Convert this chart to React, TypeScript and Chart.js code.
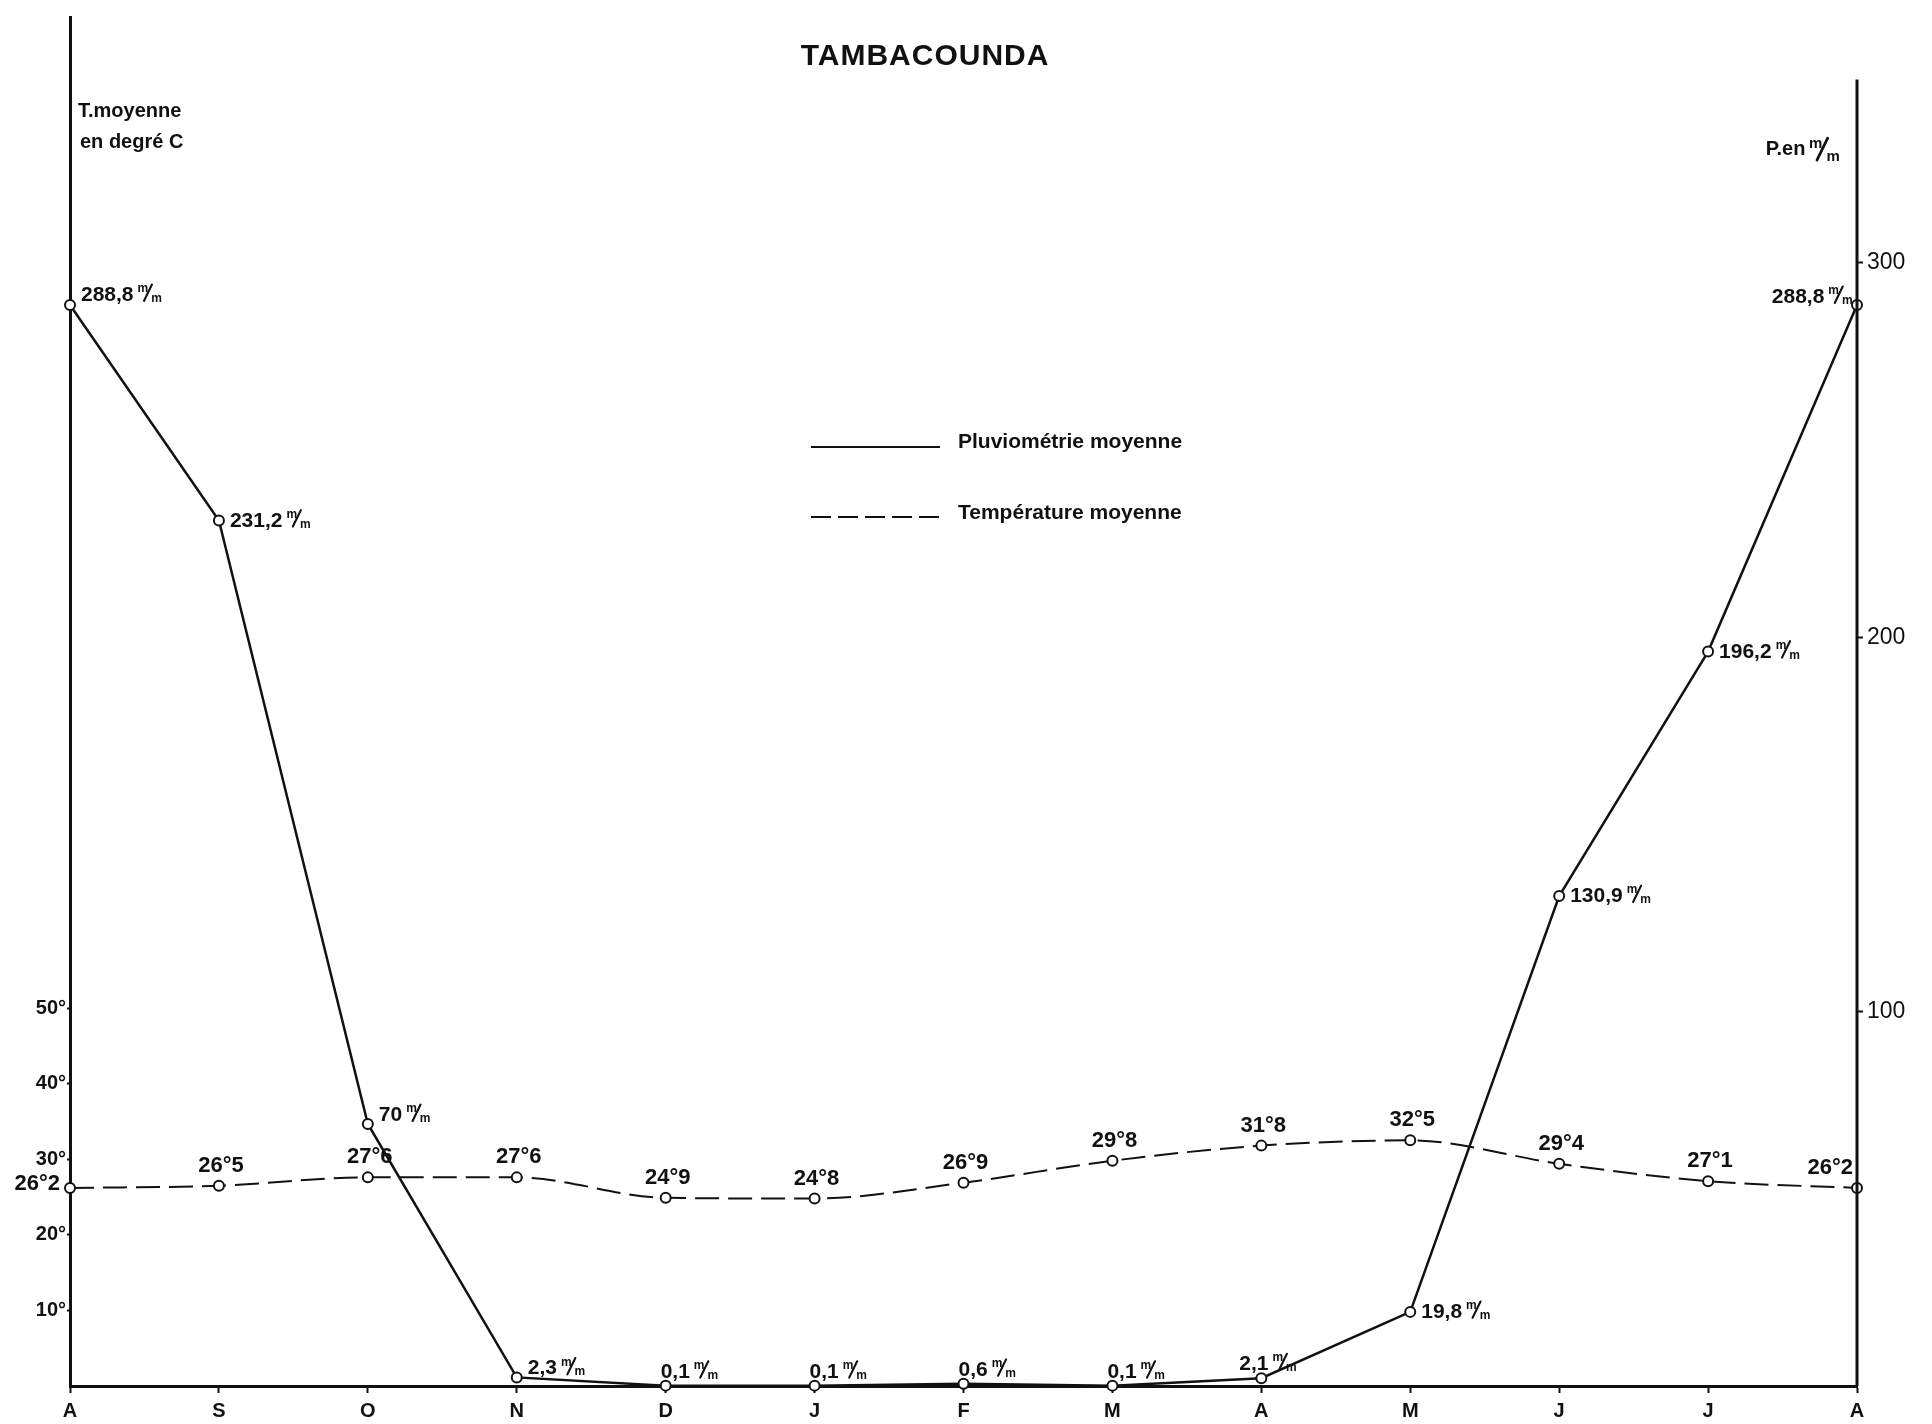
import React, { useEffect, useRef } from "react";
import { Chart, registerables } from "chart.js";

Chart.register(...registerables);

const months = ["A", "S", "O", "N", "D", "J", "F", "M", "A", "M", "J", "J", "A"];
const precipitation = [288.8, 231.2, 70, 2.3, 0.1, 0.1, 0.6, 0.1, 2.1, 19.8, 130.9, 196.2, 288.8];
const temperature = [26.2, 26.5, 27.6, 27.6, 24.9, 24.8, 26.9, 29.8, 31.8, 32.5, 29.4, 27.1, 26.2];
const precipText = ["288,8", "231,2", "70", "2,3", "0,1", "0,1", "0,6", "0,1", "2,1", "19,8", "130,9", "196,2", "288,8"];
const tempText = ["26°2", "26°5", "27°6", "27°6", "24°9", "24°8", "26°9", "29°8", "31°8", "32°5", "29°4", "27°1", "26°2"];
const tempTicks = [10, 20, 30, 40, 50];
const precipTicks = [100, 200, 300];
const seriesNames = ["Pluviométrie moyenne", "Température moyenne"];
const chartTitle = "TAMBACOUNDA";
const leftAxisTitle = ["T.moyenne", "en degré C"];
const rightAxisTitle = "P.en";

// label placement keywords (layout only)
const precipPlacement = ["right", "right", "right", "right", "above", "above", "above", "above", "above", "right", "right", "right", "left"];
const tempPlacement = ["left", "above", "above", "above", "above", "above", "above", "above", "above", "above", "above", "above", "left"];

const FONT = "'Liberation Sans', Arial, sans-serif";

function drawUnit(ctx: CanvasRenderingContext2D, x: number, y: number, size: number, draw = true): number {
  // draws a "m/m" unit (superscript m, slash, subscript m), baseline at y; returns width
  ctx.save();
  ctx.textAlign = "left";
  ctx.textBaseline = "alphabetic";
  const small = Math.round(size * 0.55);
  ctx.font = `bold ${small}px ${FONT}`;
  const wm = ctx.measureText("m").width;
  const slashW = size * 0.38;
  const total = wm * 0.75 + slashW + wm;
  if (draw) {
    ctx.fillText("m", x, y - size * 0.42);
    ctx.lineWidth = Math.max(1.5, size * 0.1);
    ctx.lineCap = "round";
    ctx.beginPath();
    ctx.moveTo(x + wm * 0.6, y);
    ctx.lineTo(x + wm * 0.6 + slashW, y - size * 0.78);
    ctx.stroke();
    ctx.fillText("m", x + wm * 0.75 + slashW * 0.7, y + 1);
  }
  ctx.restore();
  return total;
}

const annotationPlugin = {
  id: "annotations",
  afterDraw(chart: any) {
    const ctx: CanvasRenderingContext2D = chart.ctx;
    const area = chart.chartArea;
    const y2 = chart.scales.y2;
    ctx.save();
    ctx.fillStyle = "#111";
    ctx.strokeStyle = "#111";

    // right axis line (starts below top)
    ctx.lineWidth = 3;
    ctx.beginPath();
    ctx.moveTo(area.right, y2.getPixelForValue(349));
    ctx.lineTo(area.right, area.bottom);
    ctx.stroke();

    // title
    ctx.font = `bold 30px ${FONT}`;
    (ctx as any).letterSpacing = "1px";
    ctx.textAlign = "center";
    ctx.textBaseline = "middle";
    ctx.fillText(chartTitle, area.left + 855, 57);
    (ctx as any).letterSpacing = "0px";

    // axis titles
    ctx.font = `bold 20px ${FONT}`;
    ctx.textAlign = "left";
    ctx.textBaseline = "middle";
    ctx.fillText(leftAxisTitle[0], area.left + 8, 111);
    ctx.fillText(leftAxisTitle[1], area.left + 10, 142);
    ctx.textBaseline = "alphabetic";
    ctx.font = `bold 20px ${FONT}`;
    const uw = drawUnit(ctx, 0, 0, 28, false);
    const tw = ctx.measureText(rightAxisTitle + " ").width;
    const sx = area.right - 12 - uw - tw;
    ctx.font = `bold 20px ${FONT}`;
    ctx.fillText(rightAxisTitle, sx, 155);
    drawUnit(ctx, sx + tw - 2, 160, 28);

    // legend
    ctx.lineWidth = 2;
    ctx.beginPath();
    ctx.moveTo(area.left + 741, 447);
    ctx.lineTo(area.left + 870, 447);
    ctx.stroke();
    ctx.setLineDash([20, 7]);
    ctx.beginPath();
    ctx.moveTo(area.left + 741, 517);
    ctx.lineTo(area.left + 870, 517);
    ctx.stroke();
    ctx.setLineDash([]);
    ctx.font = `bold 21px ${FONT}`;
    ctx.textBaseline = "middle";
    ctx.fillText(seriesNames[0], area.left + 888, 442);
    ctx.fillText(seriesNames[1], area.left + 888, 513);

    // precipitation labels
    const pm = chart.getDatasetMeta(0);
    const size = 21;
    pm.data.forEach((pt: any, i: number) => {
      const txt = precipText[i];
      ctx.font = `bold ${size}px ${FONT}`;
      ctx.textAlign = "left";
      ctx.textBaseline = "alphabetic";
      const w = ctx.measureText(txt).width + 4;
      const u = drawUnit(ctx, 0, 0, size, false);
      let x = pt.x + 11;
      let y = pt.y + 6;
      const mode = precipPlacement[i];
      if (mode === "right") {
        if (i === 0) y = pt.y - 4;
        if (i === 2 || i === 3) y = pt.y - 3;
      } else if (mode === "above") {
        x = pt.x - 5;
        y = pt.y - 8;
        if (i === 8) x = pt.x - 22;
      } else if (mode === "left") {
        x = pt.x - 2 - w - u;
        y = pt.y - 2;
      }
      ctx.font = `bold ${size}px ${FONT}`;
      ctx.fillText(txt, x, y);
      drawUnit(ctx, x + w, y, size);
    });

    // temperature labels
    const tm = chart.getDatasetMeta(1);
    ctx.font = `bold 22px ${FONT}`;
    ctx.textBaseline = "alphabetic";
    tm.data.forEach((pt: any, i: number) => {
      const mode = tempPlacement[i];
      if (mode === "left") {
        ctx.textAlign = "right";
        if (i === 0) ctx.fillText(tempText[i], pt.x - 10, pt.y + 2);
        else ctx.fillText(tempText[i], pt.x - 4, pt.y - 14);
      } else {
        ctx.textAlign = "center";
        ctx.fillText(tempText[i], pt.x + 2, pt.y - 14);
      }
    });
    ctx.restore();
  },
};

export default function App() {
  const ref = useRef<HTMLCanvasElement | null>(null);
  useEffect(() => {
    if (!ref.current) return;
    const chart = new Chart(ref.current, {
      type: "line",
      data: {
        labels: months,
        datasets: [
          {
            label: seriesNames[0],
            data: precipitation,
            yAxisID: "y2",
            borderColor: "#111",
            borderWidth: 2.5,
            tension: 0,
            pointRadius: 5,
            pointBorderWidth: 2,
            pointBackgroundColor: "#fff",
            pointBorderColor: "#111",
            clip: false as any,
          },
          {
            label: seriesNames[1],
            data: temperature,
            yAxisID: "y",
            borderColor: "#111",
            borderWidth: 2,
            borderDash: [24, 9],
            cubicInterpolationMode: "monotone",
            pointRadius: 5,
            pointBorderWidth: 2,
            pointBackgroundColor: "#fff",
            pointBorderColor: "#111",
            clip: false as any,
          },
        ],
      },
      options: {
        responsive: false,
        animation: false,
        devicePixelRatio: 1,
        layout: { padding: { left: 8, top: 8, right: 0, bottom: 0 } },
        plugins: {
          legend: { display: false },
          title: { display: false },
          tooltip: { enabled: false },
        },
        scales: {
          x: {
            type: "category",
            offset: false,
            grid: { drawOnChartArea: false, drawTicks: true, tickLength: 7, tickWidth: 2, tickColor: "#111" },
            border: { display: true, color: "#111", width: 3 },
            ticks: {
              color: "#111",
              font: { family: FONT, size: 20, weight: "bold" },
              padding: 6,
              maxRotation: 0,
              autoSkip: false,
            },
            afterFit: (s: any) => {
              s.height = 38;
            },
          },
          y: {
            position: "left",
            min: 0,
            max: 181,
            afterBuildTicks: (s: any) => {
              s.ticks = tempTicks.map((v) => ({ value: v }));
            },
            grid: { drawOnChartArea: false, drawTicks: true, tickLength: 3, tickWidth: 2, tickColor: "#111" },
            border: { display: true, color: "#111", width: 3 },
            ticks: {
              color: "#111",
              font: { family: FONT, size: 20, weight: "bold" },
              padding: 1,
              callback: (v: any) => `${v}°`,
            },
            afterFit: (s: any) => {
              s.width = 62;
            },
          },
          y2: {
            position: "right",
            min: 0,
            max: 365.5,
            afterBuildTicks: (s: any) => {
              s.ticks = precipTicks.map((v) => ({ value: v }));
            },
            grid: { drawOnChartArea: false, drawTicks: true, tickLength: 6, tickWidth: 2, tickColor: "#111" },
            border: { display: false },
            ticks: {
              color: "#111",
              font: { family: FONT, size: 23 },
              padding: 4,
              callback: (v: any) => `${v}`,
            },
            afterFit: (s: any) => {
              s.width = 75;
            },
          },
        },
      },
      plugins: [annotationPlugin],
    });
    return () => chart.destroy();
  }, []);
  return (
    <div style={{ position: "fixed", left: 0, top: 0, width: 1932, height: 1424, background: "#fff" }}>
      <canvas ref={ref} width={1932} height={1424} style={{ display: "block" }} />
    </div>
  );
}
